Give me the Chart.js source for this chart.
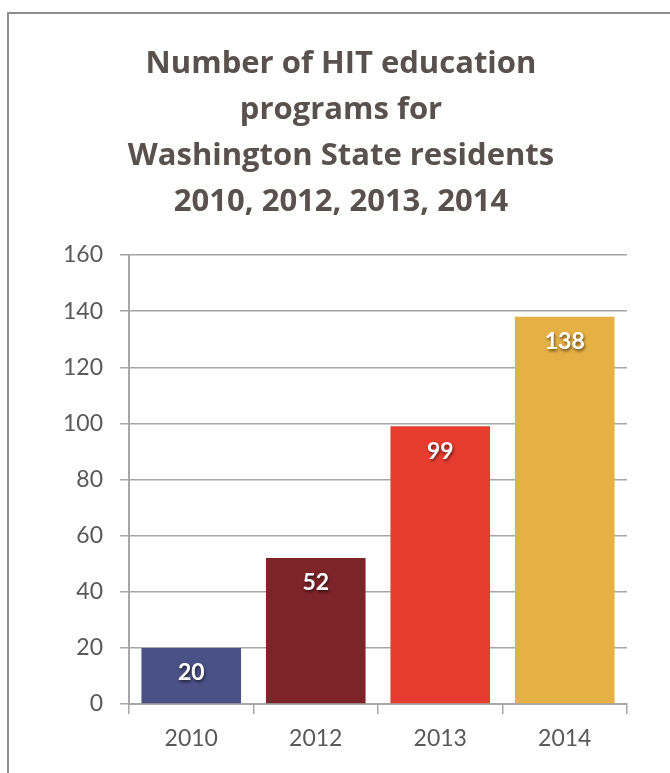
<!DOCTYPE html>
<html>
<head>
<meta charset="utf-8">
<script src="https://cdn.jsdelivr.net/npm/chart.js@4/dist/chart.umd.min.js"></script>
<style>
  html, body { margin: 0; padding: 0; background: #fff; overflow: hidden; }
  #wrap { position: relative; width: 670px; height: 773px; }
  #frame { position: absolute; left: 7px; top: 12px; width: 700px; height: 800px;
           border: 2px solid #8e8e8e; box-sizing: border-box; }
  canvas { position: absolute; left: 0; top: 0; }
</style>
</head>
<body>
<div id="wrap">
  <div id="frame"></div>
  <canvas id="chart" width="670" height="773"></canvas>
</div>
<script>
const YEARS = ["2010", "2012", "2013", "2014"];
const PROGRAMS = [20, 52, 99, 138];
const BAR_COLORS = ["#4a5185", "#7d2429", "#e63d30", "#e5b044"];
const TITLE_LINES = ["Number of HIT education", "programs for", "Washington State residents", "2010, 2012, 2013, 2014"];

const FONT = "Lato, 'Open Sans', sans-serif";
const TITLE_FONT = "'Open Sans', Lato, sans-serif";
const GRID = "#a6a6a6";

// titre sur quatre lignes, centré sur le cadre et pas sur la zone du graphique
const titleBlock = {
  id: "titleBlock",
  afterDraw(chart) {
    const ctx = chart.ctx;
    ctx.save();
    ctx.font = "bold 31px " + TITLE_FONT;
    ctx.fillStyle = "#58514d";
    ctx.textAlign = "center";
    ctx.textBaseline = "alphabetic";
    TITLE_LINES.forEach((line, i) => ctx.fillText(line, 341, 73 + i * 46));
    ctx.restore();
  },
};

// valeurs en blanc, gras, avec ombre, en haut à l'intérieur de chaque barre
const barValues = {
  id: "barValues",
  afterDatasetsDraw(chart) {
    const ctx = chart.ctx;
    const meta = chart.getDatasetMeta(0);
    ctx.save();
    ctx.font = "bold 23px " + FONT;
    ctx.textAlign = "center";
    ctx.textBaseline = "middle";
    ctx.fillStyle = "#ffffff";
    ctx.shadowColor = "rgba(0,0,0,0.55)";
    ctx.shadowOffsetX = 1;
    ctx.shadowOffsetY = 2;
    ctx.shadowBlur = 3;
    meta.data.forEach((bar, i) => {
      ctx.fillText(String(PROGRAMS[i]), bar.x, bar.y + 25);
    });
    ctx.restore();
  },
};

new Chart(document.getElementById("chart"), {
  type: "bar",
  data: {
    labels: YEARS,
    datasets: [{
      data: PROGRAMS,
      backgroundColor: BAR_COLORS,
      borderWidth: 0,
      categoryPercentage: 1,
      barPercentage: 0.8,
    }],
  },
  options: {
    responsive: false,
    animation: false,
    devicePixelRatio: 1,
    layout: { padding: { top: 255, right: 43, bottom: 0, left: 0 } },
    plugins: {
      legend: { display: false },
      tooltip: { enabled: false },
      title: { display: false },
    },
    scales: {
      x: {
        grid: { display: true, drawOnChartArea: false, color: GRID, lineWidth: 1.5, tickLength: 10, offset: true },
        border: { color: GRID, width: 2 },
        ticks: { color: "#595959", font: { family: FONT, size: 23 }, padding: 11 },
        afterFit(scale) { scale.height = 69; },
      },
      y: {
        min: 0,
        max: 160,
        ticks: { stepSize: 20, color: "#595959", font: { family: FONT, size: 23 }, padding: 17 },
        grid: { color: GRID, lineWidth: 1.5, tickLength: 9 },
        border: { color: GRID, width: 2 },
        afterFit(scale) { scale.width = 129; },
      },
    },
  },
  plugins: [barValues, titleBlock],
});
</script>
</body>
</html>
